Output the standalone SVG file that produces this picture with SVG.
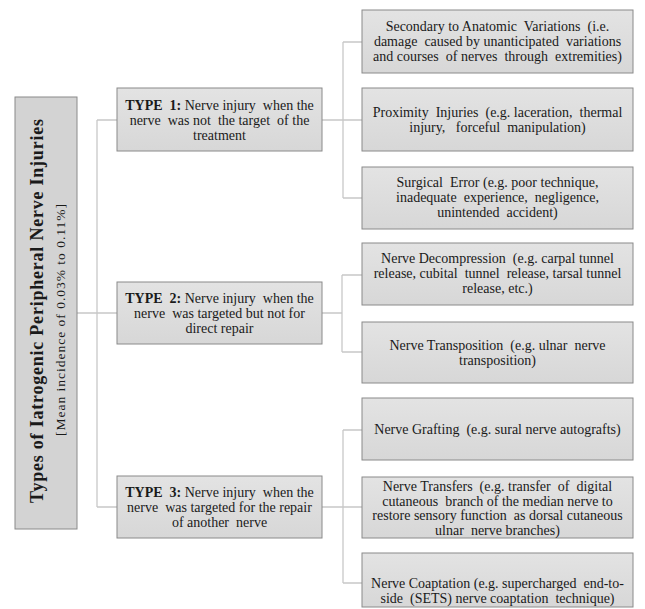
<svg xmlns="http://www.w3.org/2000/svg" width="645" height="609" viewBox="0 0 645 609">
<defs>
<linearGradient id="g" x1="0" y1="0" x2="0" y2="1">
<stop offset="0" stop-color="#e3e3e3"/>
<stop offset="1" stop-color="#d7d7d7"/>
</linearGradient>
</defs>
<style>
.box{fill:url(#g);stroke:#8a8a8a;stroke-width:1}
.root{fill:#d3d3d3;stroke:#8a8a8a;stroke-width:1}
.t{font-family:'Liberation Serif','Times New Roman',serif;font-size:14px;fill:#1a1a1a;text-anchor:middle;white-space:pre}
.b{font-weight:bold}
.conn{fill:none;stroke:#c8c8c8;stroke-width:1.3}
</style>
<rect width="645" height="609" fill="#ffffff"/>
<g id="connectors" class="conn">
<path d="M77,313 H97 M97,120 V507 M97,120 H117 M97,313 H117 M97,507 H117"/>
<path d="M322,120 H343 M343,42 V198 M343,42 H362 M343,120 H362 M343,198 H362"/>
<path d="M322,313 H342 M342,275 V352 M342,275 H362 M342,352 H362"/>
<path d="M322,507 H343 M343,430 V583 M343,430 H362 M343,507 H362 M343,583 H362"/>
</g>
<g id="root">
<rect class="root" x="15" y="97" width="62" height="432"/>
<text class="t b" transform="translate(43,311) rotate(-90)" style="font-size:18px" textLength="384" lengthAdjust="spacing">Types of Iatrogenic Peripheral Nerve Injuries</text>
<text class="t" transform="translate(65,320) rotate(-90)" style="font-size:13.5px" textLength="232" lengthAdjust="spacing">[Mean incidence of 0.03% to 0.11%]</text>
</g>
<g id="type1">
<rect class="box" x="117" y="88" width="205" height="63"/>
<text class="t" x="219.5" y="110"><tspan class="b">TYPE  1:</tspan> Nerve injury  when the</text>
<text class="t" x="219.5" y="125">nerve  was not  the target  of the</text>
<text class="t" x="219.5" y="140">treatment</text>
</g>
<g id="type2">
<rect class="box" x="117" y="282" width="205" height="62"/>
<text class="t" x="219.5" y="303"><tspan class="b">TYPE  2:</tspan> Nerve injury  when the</text>
<text class="t" x="219.5" y="318">nerve  was targeted but not for</text>
<text class="t" x="219.5" y="333">direct repair</text>
</g>
<g id="type3">
<rect class="box" x="117" y="476" width="205" height="62"/>
<text class="t" x="219.5" y="497"><tspan class="b">TYPE  3:</tspan> Nerve injury  when the</text>
<text class="t" x="219.5" y="512">nerve  was targeted for the repair</text>
<text class="t" x="219.5" y="527">of another  nerve</text>
</g>
<g id="t1a">
<rect class="box" x="362" y="10" width="271" height="63"/>
<text class="t" x="497.5" y="31">Secondary to Anatomic  Variations  (i.e.</text>
<text class="t" x="497.5" y="46">damage  caused by unanticipated  variations</text>
<text class="t" x="497.5" y="61">and courses  of nerves  through  extremities)</text>
</g>
<g id="t1b">
<rect class="box" x="362" y="88" width="271" height="63"/>
<text class="t" x="497.5" y="117">Proximity  Injuries  (e.g. laceration,  thermal</text>
<text class="t" x="497.5" y="132">injury,   forceful  manipulation)</text>
</g>
<g id="t1c">
<rect class="box" x="362" y="167" width="271" height="62"/>
<text class="t" x="497.5" y="187">Surgical  Error (e.g. poor technique,</text>
<text class="t" x="497.5" y="202">inadequate  experience,  negligence,</text>
<text class="t" x="497.5" y="217">unintended  accident)</text>
</g>
<g id="t2a">
<rect class="box" x="362" y="243" width="271" height="62"/>
<text class="t" x="497.5" y="263">Nerve Decompression  (e.g. carpal tunnel</text>
<text class="t" x="497.5" y="278">release, cubital  tunnel  release, tarsal tunnel</text>
<text class="t" x="497.5" y="293">release, etc.)</text>
</g>
<g id="t2b">
<rect class="box" x="362" y="322" width="271" height="61"/>
<text class="t" x="497.5" y="350">Nerve Transposition  (e.g. ulnar  nerve</text>
<text class="t" x="497.5" y="365">transposition)</text>
</g>
<g id="t3a">
<rect class="box" x="362" y="398" width="271" height="62"/>
<text class="t" x="497.5" y="434">Nerve Grafting  (e.g. sural nerve autografts)</text>
</g>
<g id="t3b">
<rect class="box" x="362" y="477" width="271" height="61"/>
<text class="t" x="497.5" y="491">Nerve Transfers  (e.g. transfer  of  digital</text>
<text class="t" x="497.5" y="505.5">cutaneous  branch of the median nerve to</text>
<text class="t" x="497.5" y="520">restore sensory function  as dorsal cutaneous</text>
<text class="t" x="497.5" y="534.5">ulnar  nerve branches)</text>
</g>
<g id="t3c">
<rect class="box" x="362" y="553" width="271" height="54"/>
<text class="t" x="497.5" y="588">Nerve Coaptation (e.g. supercharged  end-to-</text>
<text class="t" x="497.5" y="603">side  (SETS) nerve coaptation  technique)</text>
</g>
</svg>
